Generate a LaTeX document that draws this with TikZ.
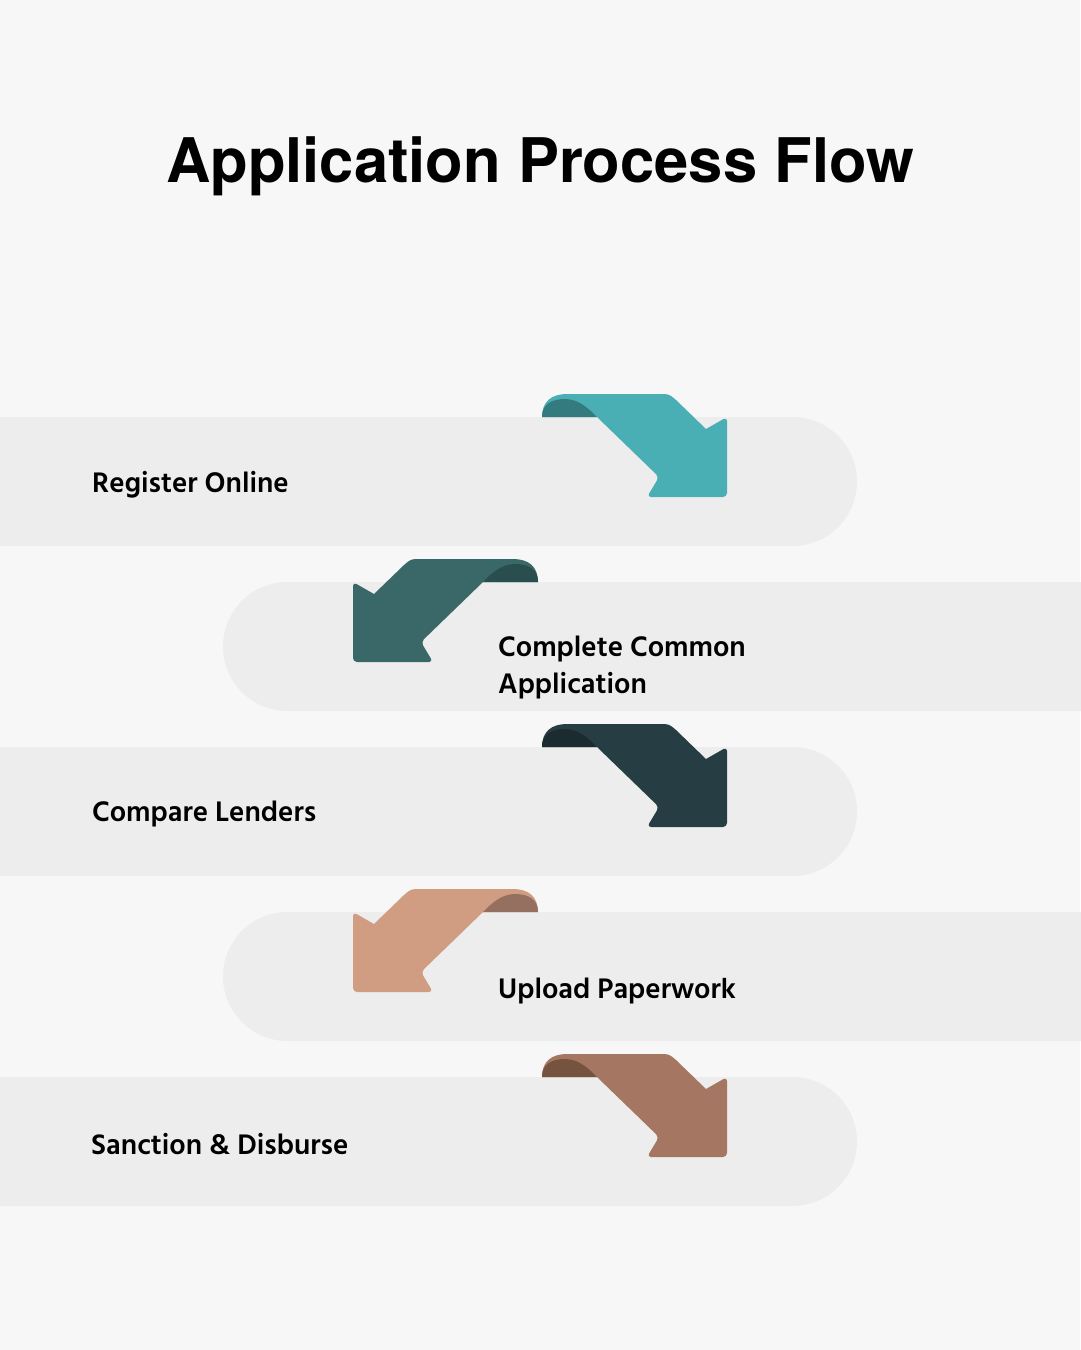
\documentclass[tikz,border=0pt]{standalone}
\usepackage{fontspec}
\usepackage{tikz}
\usetikzlibrary{positioning}
\newfontfamily\titlefont{TeX Gyre Heros}
\newfontfamily\stepfont{Hind Siliguri}
\definecolor{pagebg}{HTML}{F7F7F7}
\definecolor{bandbg}{HTML}{EDEDED}
\definecolor{tealA}{HTML}{4AAFB4}
\definecolor{tealAd}{HTML}{337B7E}
\definecolor{slateB}{HTML}{3A6767}
\definecolor{slateBd}{HTML}{2A4D4D}
\definecolor{inkC}{HTML}{263E43}
\definecolor{inkCd}{HTML}{1C2B2F}
\definecolor{sandD}{HTML}{D09D82}
\definecolor{sandDd}{HTML}{957060}
\definecolor{clayE}{HTML}{A57762}
\definecolor{clayEd}{HTML}{76533F}

% ribbon arrow, origin at the curl foot on the band top
\newcommand{\ribbon}[2]{%
  \fill[#1] (0,0) .. controls (0,-16) and (10,-23) .. (25,-23) -- (118,-23)
    .. controls (127,-23) .. (134,-17) -- (164,12)
    [rounded corners=4pt] -- (185,0) -- (185,80) -- (105,80) -- (117,60)
    [sharp corners] -- (55,0) -- cycle;
  \fill[#2] (0,0) .. controls (0,-13) and (10,-18) .. (23,-18)
    .. controls (37,-18) and (47,-8) .. (55,0) -- cycle;}

\begin{document}
\begin{tikzpicture}[x=1pt,y=-1pt,
  band/.style={fill=bandbg,rounded corners=64.5pt},
  steptext/.style={font=\stepfont\bfseries\fontsize{29}{37}\selectfont,
                   anchor=west,align=left,inner sep=0pt,text=black}
]
\fill[pagebg] (0,0) rectangle (1080,1350);
\useasboundingbox (0,0) rectangle (1080,1350);

\node[font=\titlefont\bfseries\fontsize{61.5}{70}\selectfont] (title) at (540,166) {Application Process Flow};

% bands
\fill[band] (-100,417) rectangle (857,546);
\fill[band] (223,582) rectangle (1180,711);
\fill[band] (-100,747) rectangle (857,876);
\fill[band] (223,912) rectangle (1180,1041);
\fill[band] (-100,1077) rectangle (857,1206);

% arrows
\begin{scope}[shift={(542,417)}] \ribbon{tealA}{tealAd} \end{scope}
\begin{scope}[shift={(538,582)},xscale=-1] \ribbon{slateB}{slateBd} \end{scope}
\begin{scope}[shift={(542,747)}] \ribbon{inkC}{inkCd} \end{scope}
\begin{scope}[shift={(538,912)},xscale=-1] \ribbon{sandD}{sandDd} \end{scope}
\begin{scope}[shift={(542,1077)}] \ribbon{clayE}{clayEd} \end{scope}

% labels
\node[steptext] (reg) at (92,485) {Register Online};
\node[steptext] (app) at (498,668) {Complete Common\\Application};
\node[steptext] (cmp) at (92,814) {Compare Lenders};
\node[steptext] (upl) at (498,991) {Upload Paperwork};
\node[steptext] (san) at (91,1144) {Sanction \& Disburse};
\end{tikzpicture}
\end{document}
